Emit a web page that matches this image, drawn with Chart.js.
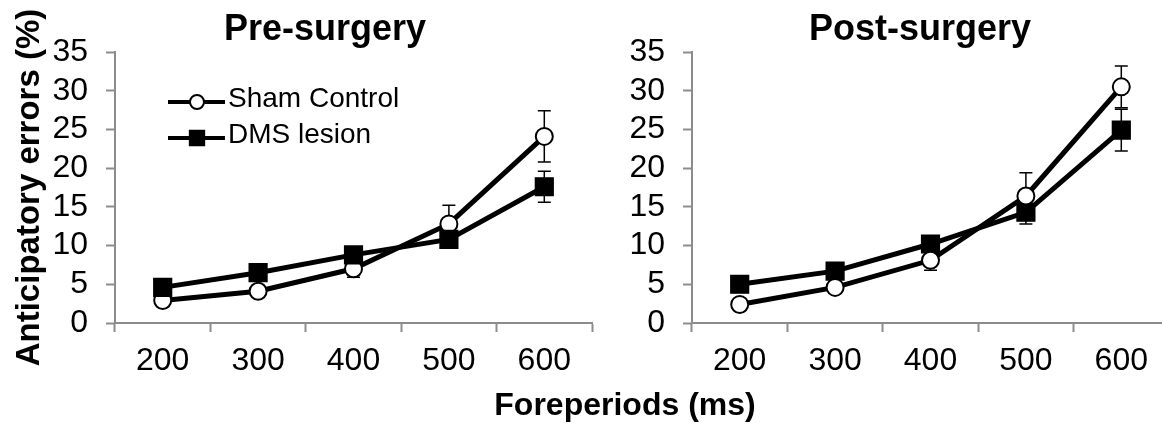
<!DOCTYPE html>
<html>
<head>
<meta charset="utf-8">
<script src="https://cdn.jsdelivr.net/npm/chart.js@4.4.1/dist/chart.umd.min.js"></script>
<style>
  html, body { margin: 0; padding: 0; background: #fff; }
  body { width: 1162px; height: 423px; position: relative; overflow: hidden;
         font-family: 'Liberation Sans', Arial, sans-serif; color: #000; }
  canvas { position: absolute; top: 0; }
  #pre { left: 0; }
  #post { left: 600px; }
  .panel-title { position: absolute; top: 10px; font-weight: bold; font-size: 36px;
                 line-height: 36px; transform: translateX(-50%); white-space: nowrap; }
  #xtitle { position: absolute; left: 625px; top: 388px; font-weight: bold; font-size: 32px;
            line-height: 32px; transform: translateX(-50%); white-space: nowrap; }
</style>
</head>
<body>
<canvas id="pre" width="640" height="423"></canvas>
<canvas id="post" width="640" height="423"></canvas>
<div class="panel-title" style="left:325px">Pre-surgery</div>
<div class="panel-title" style="left:920px">Post-surgery</div>
<div id="xtitle">Foreperiods (ms)</div>
<script>
const foreperiods = ['200', '300', '400', '500', '600'];

// pre-surgery means and SEM
const shamPre = [2.9, 4.1, 7.0, 12.8, 24.1];
const shamPreErr = [0.5, 0.6, 1.1, 2.4, 3.3];
const dmsPre = [4.6, 6.5, 8.8, 10.8, 17.6];
const dmsPreErr = [0.6, 0.7, 0.8, 0.9, 2.0];

// post-surgery means and SEM
const shamPost = [2.4, 4.6, 8.1, 16.4, 30.5];
const shamPostErr = [0.5, 0.6, 1.3, 3.0, 2.7];
const dmsPost = [5.0, 6.7, 10.2, 14.3, 24.9];
const dmsPostErr = [0.6, 0.7, 0.8, 1.5, 2.7];

const FONT = "'Liberation Sans', Arial, sans-serif";
const AXIS = '#8c8c8c';

// vertical error bars with caps, drawn under the markers
const errorBars = {
  id: 'errorBars',
  beforeDatasetsDraw(chart) {
    const ctx = chart.ctx;
    const y = chart.scales.y;
    ctx.save();
    ctx.strokeStyle = '#000';
    ctx.lineWidth = 1.5;
    chart.data.datasets.forEach((ds, i) => {
      const meta = chart.getDatasetMeta(i);
      meta.data.forEach((pt, j) => {
        const v = ds.data[j], e = ds.errors[j];
        const top = y.getPixelForValue(v + e);
        const bot = y.getPixelForValue(v - e);
        ctx.beginPath();
        ctx.moveTo(pt.x, top); ctx.lineTo(pt.x, bot);
        ctx.moveTo(pt.x - 6.5, top); ctx.lineTo(pt.x + 6.5, top);
        ctx.moveTo(pt.x - 6.5, bot); ctx.lineTo(pt.x + 6.5, bot);
        ctx.stroke();
      });
    });
    ctx.restore();
  }
};

// line + marker key placed inside the plot
const seriesKey = {
  id: 'seriesKey',
  afterDraw(chart, args, opts) {
    if (!opts.show) return;
    const ctx = chart.ctx;
    ctx.save();
    chart.data.datasets.forEach((ds, i) => {
      const cy = opts.y + i * opts.rowGap;
      ctx.strokeStyle = '#000';
      ctx.lineWidth = 4;
      ctx.beginPath();
      ctx.moveTo(opts.x, cy); ctx.lineTo(opts.x + 57, cy);
      ctx.stroke();
      ctx.fillStyle = ds.pointBackgroundColor;
      ctx.strokeStyle = '#000';
      ctx.lineWidth = ds.pointBorderWidth;
      Chart.helpers.drawPoint(ctx, {
        pointStyle: ds.pointStyle,
        radius: ds.pointStyle === 'rect' ? 10.5 : 7,
        borderWidth: ds.pointBorderWidth,
        rotation: 0
      }, opts.x + 29, cy);
      ctx.fillStyle = '#000';
      ctx.font = '28px ' + FONT;
      ctx.textBaseline = 'alphabetic';
      ctx.fillText(ds.label, opts.x + 60, cy + 5);
    });
    ctx.restore();
  }
};

function makeChart(id, sham, shamErr, dms, dmsErr, axisWidth, padRight, withTitle, shamOnTop) {
  return new Chart(document.getElementById(id), {
    type: 'line',
    data: {
      labels: foreperiods,
      datasets: [{
        label: 'Sham Control',
        data: sham,
        errors: shamErr,
        order: shamOnTop ? 0 : 1,
        borderColor: '#000',
        borderWidth: 5,
        pointStyle: 'circle',
        pointRadius: 8.5,
        pointBorderWidth: 2,
        pointBorderColor: '#000',
        pointBackgroundColor: '#fff',
        tension: 0
      }, {
        label: 'DMS lesion',
        data: dms,
        errors: dmsErr,
        order: shamOnTop ? 1 : 0,
        borderColor: '#000',
        borderWidth: 5,
        pointStyle: 'rect',
        pointRadius: 12.5,
        pointBorderWidth: 1.5,
        pointBorderColor: '#000',
        pointBackgroundColor: '#000',
        tension: 0
      }]
    },
    options: {
      responsive: false,
      animation: false,
      layout: { padding: { top: 52, right: padRight, left: 0, bottom: 0 } },
      plugins: {
        legend: { display: false },
        tooltip: { enabled: false },
        title: { display: false },
        seriesKey: { show: withTitle, x: 168, y: 102, rowGap: 36 }
      },
      scales: {
        x: {
          type: 'category',
          offset: true,
          afterFit(s) { s.height = 100; },
          grid: { offset: true, drawOnChartArea: false, drawTicks: true, tickLength: 9,
                  tickColor: AXIS, tickWidth: 2 },
          border: { color: AXIS, width: 2 },
          ticks: { color: '#000', padding: 10, autoSkip: false, maxRotation: 0,
                   font: { family: FONT, size: 32 } }
        },
        y: {
          min: 0, max: 35,
          afterFit(s) { s.width = axisWidth; },
          grid: { drawOnChartArea: false, drawTicks: true, tickLength: 9,
                  tickColor: AXIS, tickWidth: 2 },
          border: { color: AXIS, width: 2 },
          ticks: { stepSize: 5, autoSkip: false, color: '#000', padding: 18,
                   font: { family: FONT, size: 32 } },
          title: {
            display: withTitle,
            text: 'Anticipatory errors (%)',
            color: '#000',
            padding: { top: 10, bottom: 0 },
            font: { family: FONT, size: 33, weight: 'bold' }
          }
        }
      }
    },
    plugins: [errorBars, seriesKey]
  });
}

makeChart('pre', shamPre, shamPreErr, dmsPre, dmsPreErr, 115, 48, true, false);
makeChart('post', shamPost, shamPostErr, dmsPost, dmsPostErr, 92, 71, false, true);
</script>
</body>
</html>
